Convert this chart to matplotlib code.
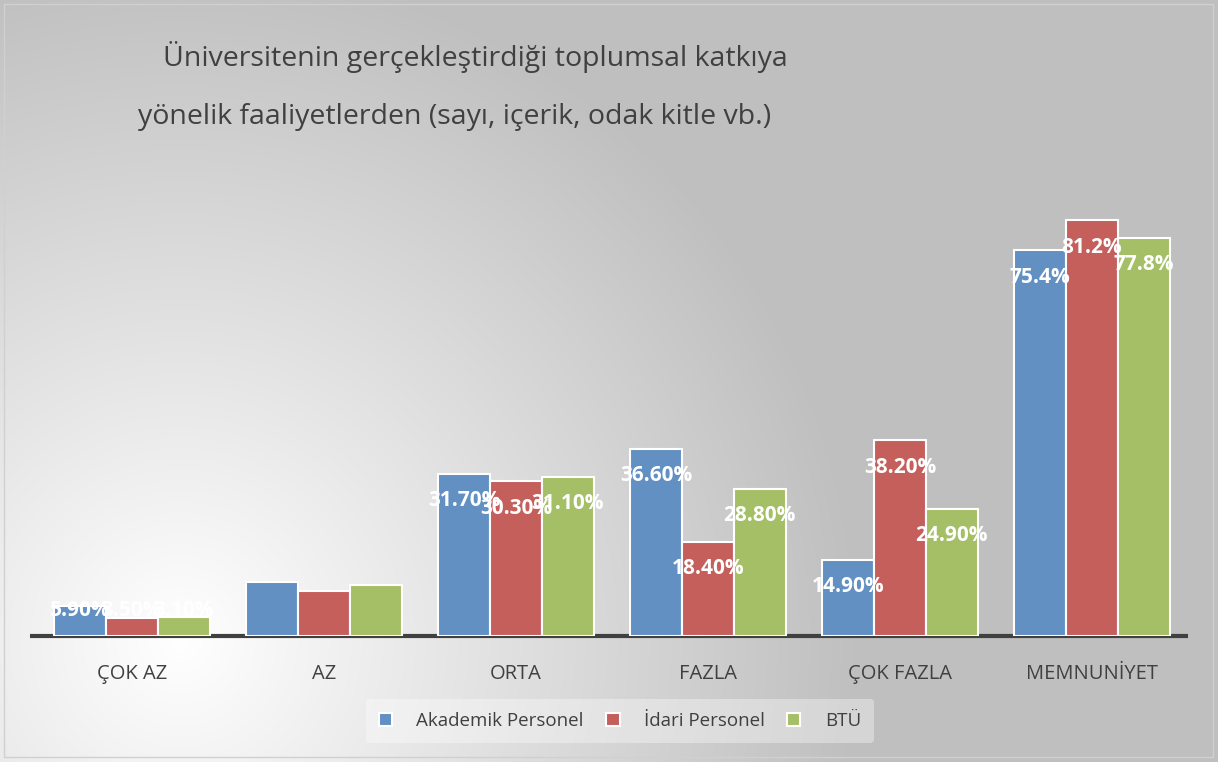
import numpy as np
import matplotlib
matplotlib.use("Agg")
import matplotlib.pyplot as plt
from matplotlib.patches import Rectangle

# data
categories = ["ÇOK AZ", "AZ", "ORTA", "FAZLA", "ÇOK FAZLA", "MEMNUNİYET"]
series_names = ["Akademik Personel", "İdari Personel", "BTÜ"]
akademik = [5.9, 10.5, 31.7, 36.6, 14.9, 75.4]
idari = [3.5, 8.8, 30.3, 18.4, 38.2, 81.2]
btu = [3.7, 10.0, 31.1, 28.8, 24.9, 77.8]
# data labels as shown (AZ labels vanish on the white background)
labels_akademik = ["5.90%", "", "31.70%", "36.60%", "14.90%", "75.4%"]
labels_idari = ["3.50%", "", "30.30%", "18.40%", "38.20%", "81.2%"]
labels_btu = ["3.10%", "", "31.10%", "28.80%", "24.90%", "77.8%"]

colors = ["#6290c3", "#c45f5c", "#a5bf66"]
W, H = 1218, 762

fig = plt.figure(figsize=(W / 100, H / 100), dpi=100)

# radial gradient background, white at lower-left, grey elsewhere
bg = fig.add_axes([0, 0, 1, 1], zorder=0)
yy, xx = np.mgrid[0:H, 0:W]
d = np.hypot(xx - 180, yy - 640)
t = np.clip(d / 680, 0, 1)
shade = 1 - t * 0.25
bg.imshow(np.dstack([shade] * 3), extent=[0, W, H, 0], aspect="auto")
bg.add_patch(Rectangle((4, 4), W - 9, H - 9, fill=False, ec="#d0d0d0", lw=1))
bg.plot([30, 1188], [636, 636], color="#404040", lw=3, solid_capstyle="butt", zorder=5)
bg.set_xlim(0, W)
bg.set_ylim(H, 0)
bg.axis("off")

# main axes
left, right = 36 / W, 1188 / W
bottom = 1 - 636 / H
top = 1 - 124 / H
ax = fig.add_axes([left, bottom, right - left, top - bottom], zorder=1)
ax.set_facecolor("none")

x = np.arange(len(categories))
bw = 0.27
all_vals = [akademik, idari, btu]
all_labels = [labels_akademik, labels_idari, labels_btu]
for i, (vals, labs) in enumerate(zip(all_vals, all_labels)):
    xs = x + (i - 1) * bw
    ax.bar(xs, vals, bw, color=colors[i], edgecolor="white", linewidth=1.5,
           label=series_names[i], zorder=2)
    for xi, v, lab in zip(xs, vals, labs):
        if lab:
            ax.text(xi, max(v - 5.3, 4.9), lab, ha="center", va="center",
                    color="white", fontsize=15, fontweight="bold",
                    family="Open Sans", zorder=3)

ax.set_xlim(-0.5, 5.5)
ax.set_ylim(0, 100)
for s in ["top", "right", "left", "bottom"]:
    ax.spines[s].set_visible(False)
ax.set_yticks([])
ax.set_xticks(x)
ax.set_xticklabels(categories, fontsize=14.5, color="#404040", family="Open Sans")
ax.tick_params(axis="x", length=0, pad=20)

# title
fig.text(475 / W, 1 - 57 / H, "Üniversitenin gerçekleştirdiği toplumsal katkıya",
         ha="center", va="center", fontsize=20.5, color="#404040", family="Open Sans")
fig.text(455 / W, 1 - 117 / H, "yönelik faaliyetlerden (sayı, içerik, odak kitle vb.)",
         ha="center", va="center", fontsize=20.5, color="#404040", family="Open Sans")

leg = ax.legend(loc="center", ncol=3, frameon=True,
                handlelength=0.7, handleheight=0.7, handletextpad=1.3,
                columnspacing=1.2, borderpad=0.7,
                prop={"family": "Open Sans", "size": 13.5})
leg.set_bbox_to_anchor((620 / W, 1 - 721 / H), transform=fig.transFigure)
leg.get_frame().set_facecolor("white")
leg.get_frame().set_alpha(0.35)
leg.get_frame().set_edgecolor("none")
for txt in leg.get_texts():
    txt.set_color("#404040")

fig.savefig("out.png", dpi=100)
